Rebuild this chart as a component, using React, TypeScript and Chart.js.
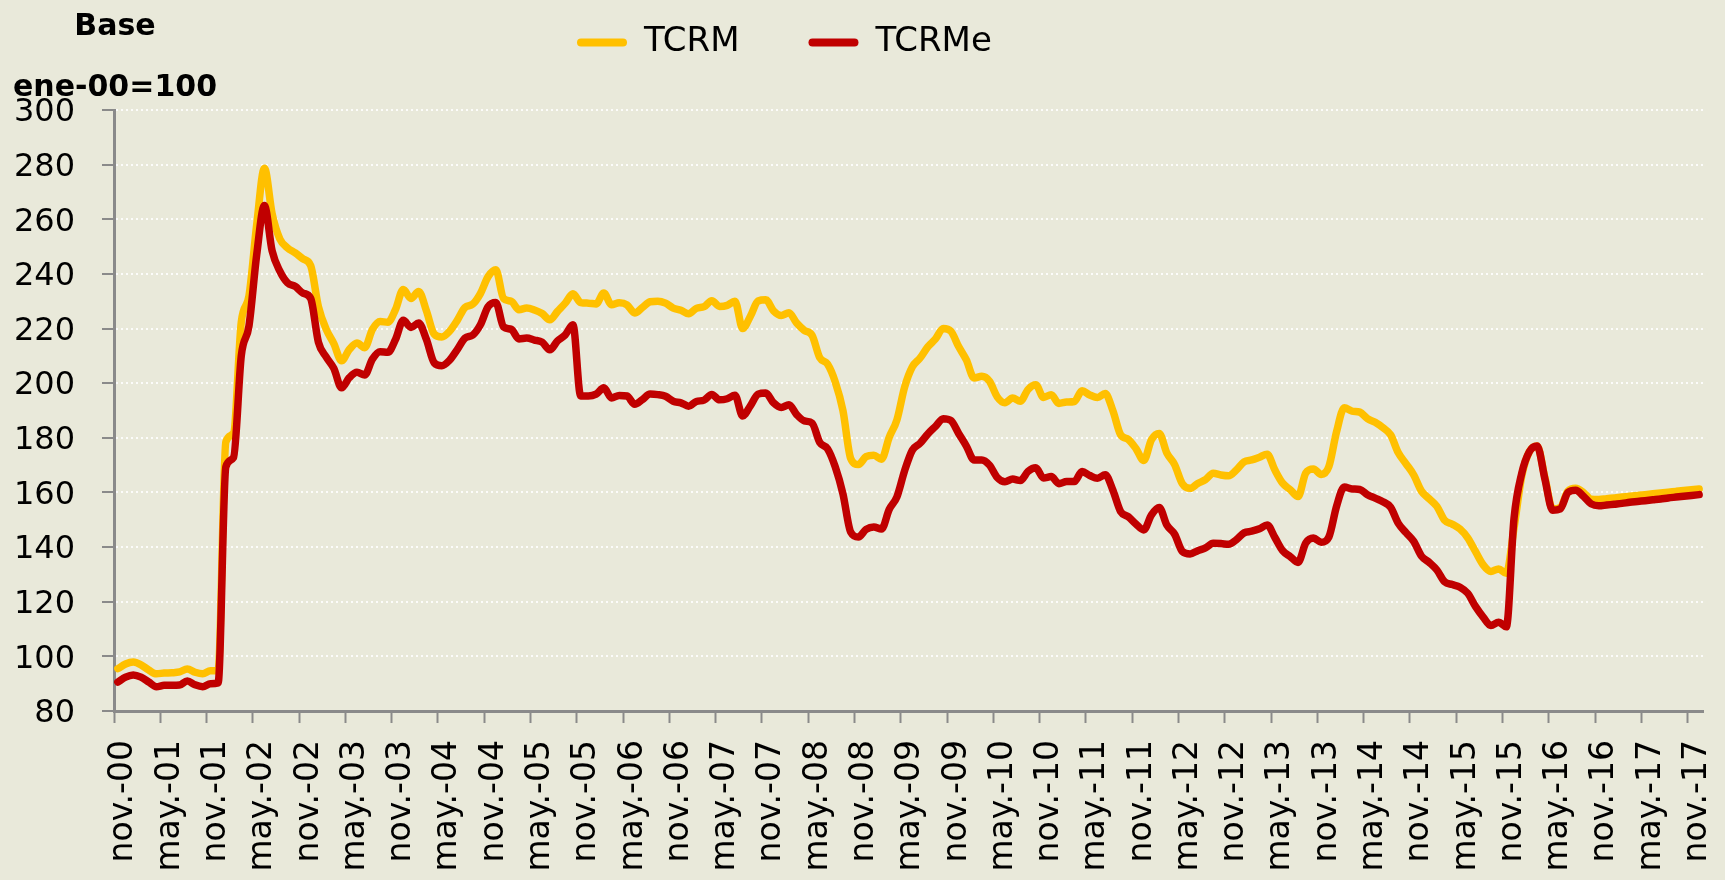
import React, { useEffect, useRef } from 'react';
import { Chart, registerables } from 'chart.js';

Chart.register(...registerables);

// ---------- data ----------
const MONTHS = ['ene.', 'feb.', 'mar.', 'abr.', 'may.', 'jun.', 'jul.', 'ago.', 'sep.', 'oct.', 'nov.', 'dic.'];
const FIRST_MONTH = 10; // nov
const FIRST_YEAR = 2000;
const N_POINTS = 206; // nov-00 .. dic-17
const CATEGORIES: string[] = Array.from({ length: N_POINTS }, (_, i) => {
  const k = FIRST_MONTH + i;
  const yy = String((FIRST_YEAR + Math.floor(k / 12)) % 100).padStart(2, '0');
  return `${MONTHS[k % 12]}-${yy}`;
});
const TICK_EVERY = 6;

const SERIES_NAMES = ['TCRM', 'TCRMe'];
const CAPTION_LINES = ['Base', 'ene-00=100'];

const TCRM = [
  95.5, 97.2, 97.9, 96.9, 95.0, 93.6, 93.9, 94.0, 94.3, 95.4,
  94.2, 93.6, 94.7, 94.9, 178.5, 181.7, 222.3, 232.0, 258.0, 278.7,
  262.0, 252.8, 249.5, 247.7, 245.5, 243.0, 228.0, 219.8, 214.5, 208.2,
  212.3, 214.7, 213.0, 219.7, 222.6, 222.3, 227.0, 234.3, 231.0, 233.6,
  226.5, 218.0, 216.9, 219.0, 223.0, 227.7, 228.9, 232.8, 239.0, 241.5,
  231.0, 230.0, 226.9, 227.5, 226.8, 225.5, 223.2, 226.3, 229.3, 232.7,
  229.5, 229.3, 229.0, 233.0, 228.7, 229.4, 228.7, 225.7, 227.7, 229.8,
  230.0, 229.3, 227.5, 226.7, 225.4, 227.4, 228.0, 230.2, 228.1, 228.5,
  230.0, 220.0, 224.5, 230.1, 230.5, 226.5, 224.8, 225.8, 222.0, 219.3,
  217.5, 209.3, 207.0, 200.5, 190.0, 172.5, 170.2, 173.1, 173.6, 172.2,
  180.2, 186.6, 198.6, 206.0, 209.2, 213.3, 216.2, 220.0, 219.0, 213.4,
  208.5, 201.9, 202.5, 200.7, 195.0, 192.8, 194.6, 193.4, 197.7, 199.4,
  194.8, 195.8, 192.6, 193.1, 193.3, 197.2, 195.7, 194.8, 196.2, 189.9,
  181.1, 179.4, 176.0, 171.7, 179.3, 181.6, 174.4, 170.2, 163.2, 161.5,
  163.3, 164.7, 167.0, 166.4, 166.1, 168.2, 171.2, 171.9, 172.9, 174.0,
  168.2, 163.4, 161.0, 158.5, 167.1, 168.6, 166.6, 169.5, 182.3, 191.0,
  189.8, 189.4, 187.0, 185.7, 183.7, 181.1, 174.5, 170.5, 166.4, 160.5,
  157.7, 154.9, 149.8, 148.4, 146.6, 143.4, 138.4, 133.5, 131.1, 132.0,
  130.4, 147.0, 166.0, 175.0, 177.0, 165.5, 154.0, 154.5, 160.5, 161.5,
  160.0, 157.5, 157.4, 157.7, 158.0, 158.3, 158.6, 158.9, 159.2, 159.5,
  159.8, 160.1, 160.4, 160.7, 161.0, 161.3,
];

const TCRME = [
  90.6, 92.4, 93.2, 92.4, 90.6, 88.9, 89.4, 89.4, 89.5, 91.0,
  89.6, 88.9, 90.0, 90.3, 169.4, 172.8, 210.0, 221.0, 247.0, 265.0,
  248.4, 241.0, 236.7, 235.4, 233.0, 231.0, 215.0, 209.6, 205.4, 198.3,
  202.0, 204.0, 203.0, 208.8, 211.5, 211.3, 216.0, 223.0, 220.4, 222.0,
  216.0, 207.5, 206.4, 208.4, 212.3, 216.5, 217.6, 221.4, 228.0, 229.5,
  220.6, 219.7, 216.2, 216.5, 215.8, 215.0, 212.2, 215.5, 217.7, 221.4,
  195.3, 195.3, 196.0, 198.3, 194.6, 195.5, 195.3, 192.3, 194.0, 196.0,
  195.8, 195.2, 193.4, 192.8, 191.6, 193.3, 193.8, 195.9, 193.9, 194.3,
  195.6, 188.0, 191.7, 196.0, 196.4, 192.8, 191.1, 192.1, 188.5, 186.2,
  185.4, 178.3, 176.0, 169.4, 159.5, 145.5, 143.7, 146.5, 147.4, 146.6,
  153.8, 158.4, 168.0, 175.5, 178.0, 181.4, 184.2, 187.0, 186.3, 181.6,
  177.0, 171.9, 171.9, 170.0, 165.5, 163.9, 164.9, 164.4, 167.7, 169.0,
  165.3, 165.8, 163.2, 164.0, 164.0, 167.7, 166.2, 165.2, 166.5, 160.8,
  153.0, 151.1, 148.4, 146.3, 151.8, 154.5, 148.0, 144.7, 138.4, 137.5,
  138.7, 139.7, 141.4, 141.3, 141.0, 142.7, 145.2, 145.8, 146.7, 148.1,
  143.5, 138.7, 136.5, 134.4, 141.5, 143.3, 141.8, 143.7, 155.0, 162.0,
  161.3, 161.1, 159.2, 157.9, 156.6, 154.6, 148.7, 145.3, 142.1, 136.7,
  134.4, 131.6, 127.3, 126.3, 125.3, 123.1, 118.3, 114.4, 111.3, 112.5,
  110.8, 150.5, 167.0, 175.0, 177.0, 165.0, 153.5, 154.0, 160.0, 160.8,
  158.6, 155.8, 155.1, 155.4, 155.7, 156.0, 156.4, 156.7, 157.0, 157.3,
  157.6, 158.0, 158.3, 158.6, 158.9, 159.2,
];

const Y_MIN = 80;
const Y_MAX = 300;
const Y_STEP = 20;

// ---------- styles ----------
const W = 1725;
const H = 880;
const BG = 'rgb(233,233,218)';
const AXIS_COLOR = '#8a8a8a';
const GRID_COLOR = 'rgba(255,255,255,0.85)';
const COLOR_TCRM = '#FFC000';
const COLOR_TCRME = '#C00000';
const FONT = '"DejaVu Sans", "Liberation Sans", sans-serif';
const LEGEND_PAD = 69;
const LEGEND_FONT = 34;
const LEGEND_X = 577;
const PLOT_TOP = 110;

export default function App() {
  const ref = useRef<HTMLCanvasElement | null>(null);

  useEffect(() => {
    const canvas = ref.current;
    if (!canvas) return;

    const legendPlace = {
      id: 'legendPlace',
      afterLayout(chart: any) {
        const lg = chart.legend;
        if (!lg) return;
        const w = lg.width;
        const h = lg.height;
        lg.left = LEGEND_X - LEGEND_PAD;
        lg.right = lg.left + w;
        lg.top = 42.5 - LEGEND_FONT / 2 - LEGEND_PAD;
        lg.bottom = lg.top + h;
      },
    };

    const caption = {
      id: 'axisCaption',
      afterDraw(chart: any) {
        const ctx = chart.ctx;
        ctx.save();
        ctx.font = `bold 30px ${FONT}`;
        ctx.fillStyle = '#000';
        ctx.textAlign = 'center';
        ctx.textBaseline = 'alphabetic';
        const x = chart.chartArea.left + 1;
        ctx.fillText(CAPTION_LINES[0], x, 35);
        ctx.fillText(CAPTION_LINES[1], x, 96);
        ctx.restore();
      },
    };

    const lineStyle = {
      borderWidth: 7.5,
      pointRadius: 0,
      pointHoverRadius: 0,
      cubicInterpolationMode: 'monotone' as const,
      borderCapStyle: 'round' as const,
      borderJoinStyle: 'round' as const,
      clip: 10,
      fill: false,
    };

    const chart = new Chart(canvas, {
      type: 'line',
      data: {
        labels: CATEGORIES,
        datasets: [
          { ...lineStyle, label: SERIES_NAMES[0], data: TCRM, borderColor: COLOR_TCRM, backgroundColor: COLOR_TCRM, order: 2 },
          { ...lineStyle, label: SERIES_NAMES[1], data: TCRME, borderColor: COLOR_TCRME, backgroundColor: COLOR_TCRME, order: 1 },
        ],
      },
      options: {
        animation: false,
        responsive: false,
        devicePixelRatio: 1,
        layout: { padding: { left: 0, right: 22, top: 0, bottom: 0 } },
        plugins: {
          tooltip: { enabled: false },
          legend: {
            display: true,
            position: 'top',
            align: 'start',
            maxHeight: PLOT_TOP,
            labels: {
              boxWidth: 50,
              boxHeight: 8,
              padding: LEGEND_PAD,
              color: '#000',
              font: { family: FONT, size: LEGEND_FONT },
              sort: (a: any, b: any) => a.datasetIndex - b.datasetIndex,
              generateLabels: (c: any) => {
                const base = (Chart.defaults as any).plugins.legend.labels.generateLabels(c);
                return base.map((it: any) => {
                  const ds = c.data.datasets[it.datasetIndex];
                  return { ...it, fillStyle: ds.borderColor, strokeStyle: ds.borderColor, lineWidth: 0, borderRadius: 4 };
                });
              },
            },
          },
        },
        scales: {
          x: {
            type: 'category',
            offset: true,
            grid: {
              display: true,
              offset: true,
              drawOnChartArea: false,
              drawTicks: true,
              tickLength: 12,
              tickWidth: 2,
              tickColor: (c: any) => (c.index % TICK_EVERY === 0 && c.index < N_POINTS ? AXIS_COLOR : 'rgba(0,0,0,0)'),
            },
            border: { display: true, color: AXIS_COLOR, width: 3 },
            ticks: {
              autoSkip: false,
              minRotation: 90,
              maxRotation: 90,
              padding: 17,
              labelOffset: 6,
              color: '#000',
              font: { family: FONT, size: 33 },
              callback: (_v: any, i: number) => (i % TICK_EVERY === 0 ? CATEGORIES[i] : ''),
            },
            afterFit: (s: any) => {
              s.height = H - 711;
              s.paddingLeft = 0;
              s.paddingRight = 0;
            },
          },
          y: {
            min: Y_MIN,
            max: Y_MAX,
            ticks: {
              stepSize: Y_STEP,
              padding: 27,
              labelOffset: 3,
              color: '#000',
              font: { family: FONT, size: 32 },
            },
            grid: {
              color: GRID_COLOR,
              lineWidth: 2,
              drawTicks: true,
              tickLength: 12,
              tickWidth: 2,
              tickColor: AXIS_COLOR,
              tickBorderDash: [],
            },
            border: { display: true, color: AXIS_COLOR, width: 3, dash: [2, 3] },
            afterFit: (s: any) => {
              s.width = 114;
            },
          },
        },
      } as any,
      plugins: [legendPlace, caption],
    });

    return () => chart.destroy();
  }, []);

  return (
    <div style={{ position: 'fixed', left: 0, top: 0, width: W, height: H, background: BG, overflow: 'hidden' }}>
      <canvas ref={ref} width={W} height={H} style={{ display: 'block', width: W, height: H }} />
    </div>
  );
}
